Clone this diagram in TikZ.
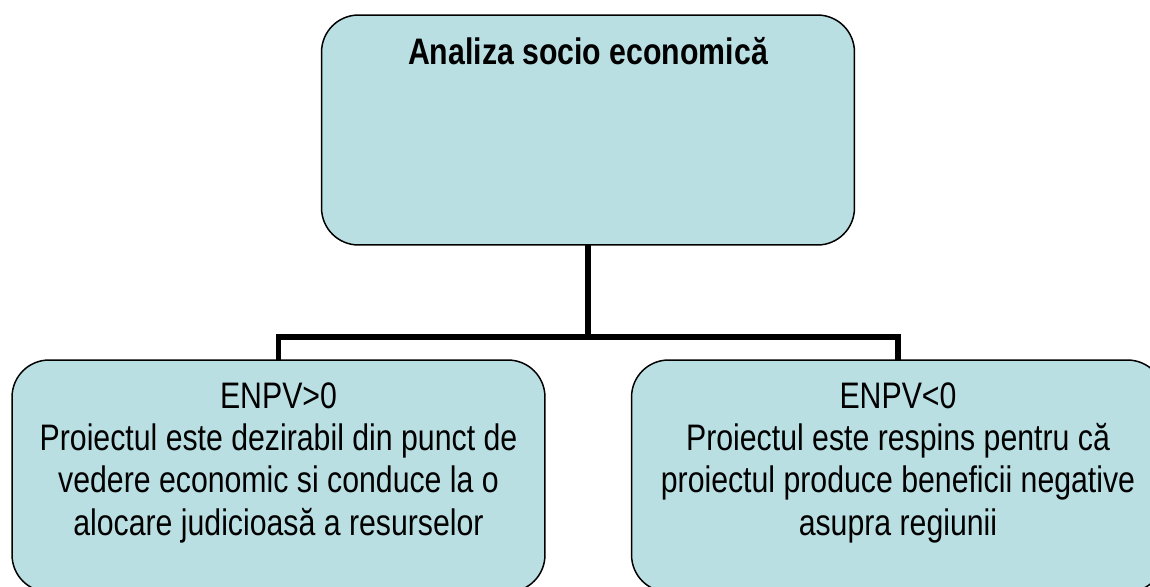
\documentclass[tikz,border=0pt]{standalone}
\usepackage{fontspec}
\setmainfont[FakeStretch=0.82]{Liberation Sans}
\usetikzlibrary{positioning}
\definecolor{boxfill}{RGB}{186,223,227}

\begin{document}
\begin{tikzpicture}[% styles used in image code
    x = 0.02cm, y = -0.02cm, % one unit = one pixel of the frame
  box/.style = {draw, line width=0.85pt, fill=boxfill,
                rounded corners=0.74cm,
                minimum width=10.66cm, minimum height=4.64cm,
                inner sep=0pt, outer sep=0pt},
  txt/.style = {align=center, inner sep=0pt,
                font=\fontsize{21}{24.1}\selectfont},
 conn/.style = {line width=3.1pt}
                    ]
	% frame of the picture
	\clip (0,0) rectangle (1150,586);

	% boxes
	\node (topbox)   [box, minimum height=4.6cm] at (588,130) {};
	\node (leftbox)  [box] at (278.5,476) {};
	\node (rightbox) [box] at (898,476) {};

	% texts
	\node (toptxt)   [txt, font=\fontsize{21}{24.1}\selectfont\bfseries,
	                  below=0.43cm of topbox.north] {Analiza socio economică};
	\node (lefttxt)  [txt, below=0.44cm of leftbox.north]
		{ENPV>0\\ Proiectul este dezirabil din punct de\\
		 vedere economic si conduce la o\\ alocare judicioasă a resurselor};
	\node (righttxt) [txt, below=0.44cm of rightbox.north]
		{ENPV<0\\ Proiectul este respins pentru că\\
		 proiectul produce beneficii negative\\ asupra regiunii};

	% connectors
	\coordinate (bar) at (0,337);
	\draw [conn] (topbox.south) -- (topbox.south |- bar);
	\draw [conn] (leftbox.north) -- (leftbox.north |- bar)
		-- (rightbox.north |- bar) -- (rightbox.north);
\end{tikzpicture}
\end{document}
